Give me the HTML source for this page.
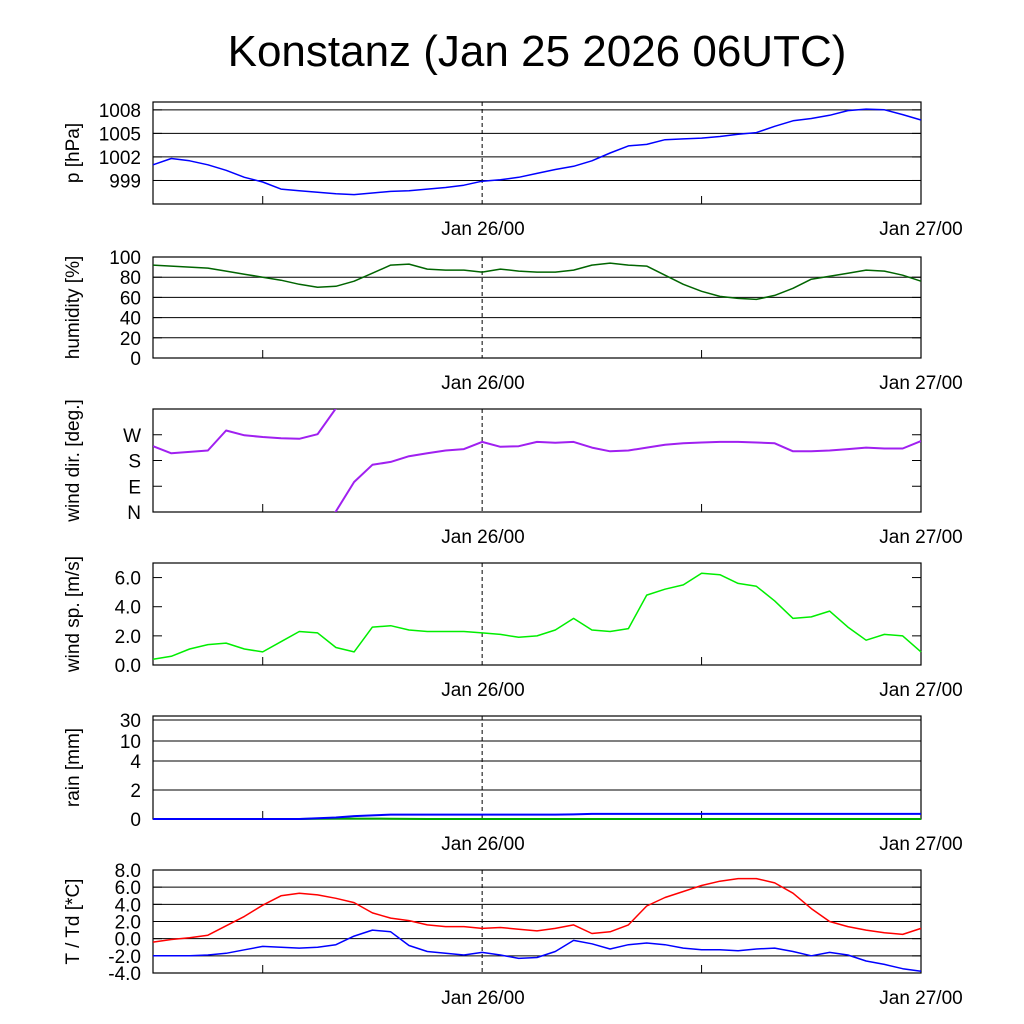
<!DOCTYPE html>
<html><head><meta charset="utf-8"><style>
body{margin:0;background:#fff}
svg{display:block;font-family:"Liberation Sans",sans-serif}
</style></head><body>
<svg id="c" width="1024" height="1024">
<text x="537" y="66" font-size="44" text-anchor="middle">Konstanz (Jan 25 2026 06UTC)</text>
</svg>
<script>
const hours=[];for(let i=0;i<=42;i++)hours.push(i);
const pressure=[1001.0,1001.8,1001.5,1001.0,1000.3,999.4,998.8,997.9,997.7,997.5,997.3,997.2,997.4,997.6,997.7,997.9,998.1,998.4,998.9,999.1,999.4,999.9,1000.4,1000.8,1001.5,1002.5,1003.4,1003.6,1004.2,1004.3,1004.4,1004.6,1004.9,1005.1,1005.9,1006.6,1006.9,1007.3,1007.9,1008.1,1008.0,1007.4,1006.7];
const humidity=[92,91,90,89,86,83,80,77,73,70,71,76,84,92,93,88,87,87,85,88,86,85,85,87,92,94,92,91,82,73,66,61,59,58,62,69,78,81,84,87,86,82,76];
const windDir=[230,205,210,215,285,268,262,258,256,272,2,105,165,175,195,205,215,220,245,228,230,245,242,245,225,212,215,225,235,240,243,245,245,243,240,212,212,215,220,225,222,222,248];
const windSpeed=[0.4,0.6,1.1,1.4,1.5,1.1,0.9,1.6,2.3,2.2,1.2,0.9,2.6,2.7,2.4,2.3,2.3,2.3,2.2,2.1,1.9,2.0,2.4,3.2,2.4,2.3,2.5,4.8,5.2,5.5,6.3,6.2,5.6,5.4,4.4,3.2,3.3,3.7,2.6,1.7,2.1,2.0,0.9];
const rainTotal=[0,0,0,0,0,0,0,0,0,0.05,0.1,0.2,0.25,0.3,0.3,0.3,0.3,0.3,0.3,0.3,0.3,0.3,0.3,0.32,0.35,0.35,0.35,0.35,0.35,0.35,0.35,0.35,0.35,0.35,0.35,0.35,0.35,0.35,0.35,0.35,0.35,0.35,0.35];
const rainRate=[0,0,0,0,0,0,0,0,0,0.02,0.03,0.03,0.03,0.02,0.01,0,0,0,0,0,0,0,0,0,0,0,0,0,0,0,0,0,0,0,0,0,0,0,0,0,0,0,0];
const temp=[-0.4,-0.1,0.1,0.4,1.5,2.6,3.9,5.0,5.3,5.1,4.7,4.2,3.0,2.4,2.1,1.6,1.4,1.4,1.2,1.3,1.1,0.9,1.2,1.6,0.6,0.8,1.6,3.8,4.8,5.5,6.2,6.7,7.0,7.0,6.5,5.3,3.5,2.0,1.4,1.0,0.7,0.5,1.2];
const dewpoint=[-2.0,-2.0,-2.0,-1.9,-1.7,-1.3,-0.9,-1.0,-1.1,-1.0,-0.7,0.3,1.0,0.8,-0.8,-1.5,-1.7,-1.9,-1.6,-1.9,-2.3,-2.2,-1.5,-0.2,-0.6,-1.2,-0.7,-0.5,-0.7,-1.1,-1.3,-1.3,-1.4,-1.2,-1.1,-1.5,-2.0,-1.6,-1.9,-2.6,-3.0,-3.5,-3.8];
const pTicks=[1008,1005,1002,999];
const hTicks=[100,80,60,40,20,0];
const dTicks=[["W",270],["S",180],["E",90],["N",0]];
const sTicks=[6.0,4.0,2.0,0.0];
const rTicks=[30,10,4,2,0];
const tTicks=[8,6,4,2,0,-2,-4];

const NS="http://www.w3.org/2000/svg",svg=document.getElementById('c');
const X0=153,X1=921,H=42;
const xs=h=>X0+(X1-X0)*h/H;
function el(t,a,p){const e=document.createElementNS(NS,t);for(const k in a)e.setAttribute(k,a[k]);(p||svg).appendChild(e);return e;}
function txt(x,y,s,anchor,size,p){const e=el('text',{x:x,y:y,'font-size':size||16,'text-anchor':anchor||'end'},p);e.textContent=s;return e;}
function panel(name,top,bot,title,ys,grid,ticks,fmt){
  const g=el('g',{});
  
  
  el('rect',{x:X0,y:top,width:X1-X0,height:bot-top,fill:'none',stroke:'#000','stroke-width':1.2},g);
  ticks.forEach(t=>{const v=Array.isArray(t)?t[1]:t,lab=Array.isArray(t)?t[0]:fmt(t);const y=ys(v);
    if(grid&&y>top+1&&y<bot-1)el('line',{x1:X0,x2:X1,y1:y,y2:y,stroke:'#000','stroke-width':1},g);
    el('line',{x1:X0,x2:X0+9,y1:y,y2:y,stroke:'#000'},g);el('line',{x1:X1-9,x2:X1,y1:y,y2:y,stroke:'#000'},g);
    const tl=txt(141,y+7,lab,'end',19,g);
    
    
  });
  [6,30].forEach(h=>{el('line',{x1:xs(h),x2:xs(h),y1:bot,y2:bot-8,stroke:'#000'},g);});
  el('line',{x1:xs(18),x2:xs(18),y1:top,y2:bot,stroke:'#000','stroke-dasharray':'4,3'},g);
  const l1=txt(483,bot+31,'Jan 26/00','middle',19,g);
  
  
  const l2=txt(921,bot+31,'Jan 27/00','middle',19,g);
  
  
  const cy=(top+bot)/2;
  const yt=el('text',{x:0,y:0,'font-size':19,'text-anchor':'middle',transform:`translate(79,${cy}) rotate(-90)`},g);
  yt.textContent=title;
  
  
  return g;
}
function line(g,arr,ys,color,name,w){
  const d=arr.map((v,i)=>(i?'L':'M')+xs(hours[i]).toFixed(1)+','+ys(v).toFixed(1)).join('');
  const p=el('path',{d:d,fill:'none',stroke:color,'stroke-width':w||1.5,'stroke-linejoin':'round'},g);
  
  
  return p;
}
// pressure
const yp=v=>102+(1009-v)*102/13;
let g=panel('pressure',102,204,'p [hPa]',yp,true,pTicks,v=>v);
line(g,pressure,yp,'#0000ff','pressure-line');
// humidity
const yh=v=>358-v*1.01;
g=panel('humidity',257,358,'humidity [%]',yh,true,hTicks,v=>v);
line(g,humidity,yh,'#006400','humidity-line');
// wind dir
const yd=v=>512-v*103/360;
g=panel('wind-dir',409,512,'wind dir. [deg.]',yd,false,dTicks);
const clip=el('clipPath',{id:'cd'},g);
el('rect',{x:X0,y:409,width:X1-X0,height:103},clip);
const dg=el('g',{'clip-path':'url(#cd)'},g);
const unwrapped=[];let off=0;
windDir.forEach((v,i)=>{if(i>0){const pv=windDir[i-1];if(pv-v>180)off+=360;else if(v-pv>180)off-=360;}unwrapped.push(v+off);});
[0,-360,360,-720].forEach(sh=>{
  const p=line(dg,unwrapped.map(v=>v+sh),yd,'#a020f0','wind-direction-line',2);
});
// wind speed
const ys2=v=>665-v*102/7;
g=panel('wind-speed',563,665,'wind sp. [m/s]',ys2,false,sTicks,v=>v.toFixed(1));
line(g,windSpeed,ys2,'#00ee00','wind-speed-line');
// rain
const rv=[0,2,4,10,30],ry=[819,790,761,741,720];
const yr=v=>{for(let i=1;i<rv.length;i++)if(v<=rv[i])return ry[i-1]+(ry[i]-ry[i-1])*(v-rv[i-1])/(rv[i]-rv[i-1]);return ry[4];};
g=panel('rain',716,819,'rain [mm]',yr,true,rTicks,v=>v);
line(g,rainRate,yr,'#00aa00','rain-rate-line',2);
line(g,rainTotal,yr,'#0000ff','rain-total-line',2);
// temperature
const yt=v=>870+(8-v)*103/12;
g=panel('temperature',870,973,'T / Td [*C]',yt,true,tTicks,v=>v.toFixed(1));
line(g,temp,yt,'#ff0000','temperature-line');
line(g,dewpoint,yt,'#0000ff','dewpoint-line');
</script>
</body></html>
